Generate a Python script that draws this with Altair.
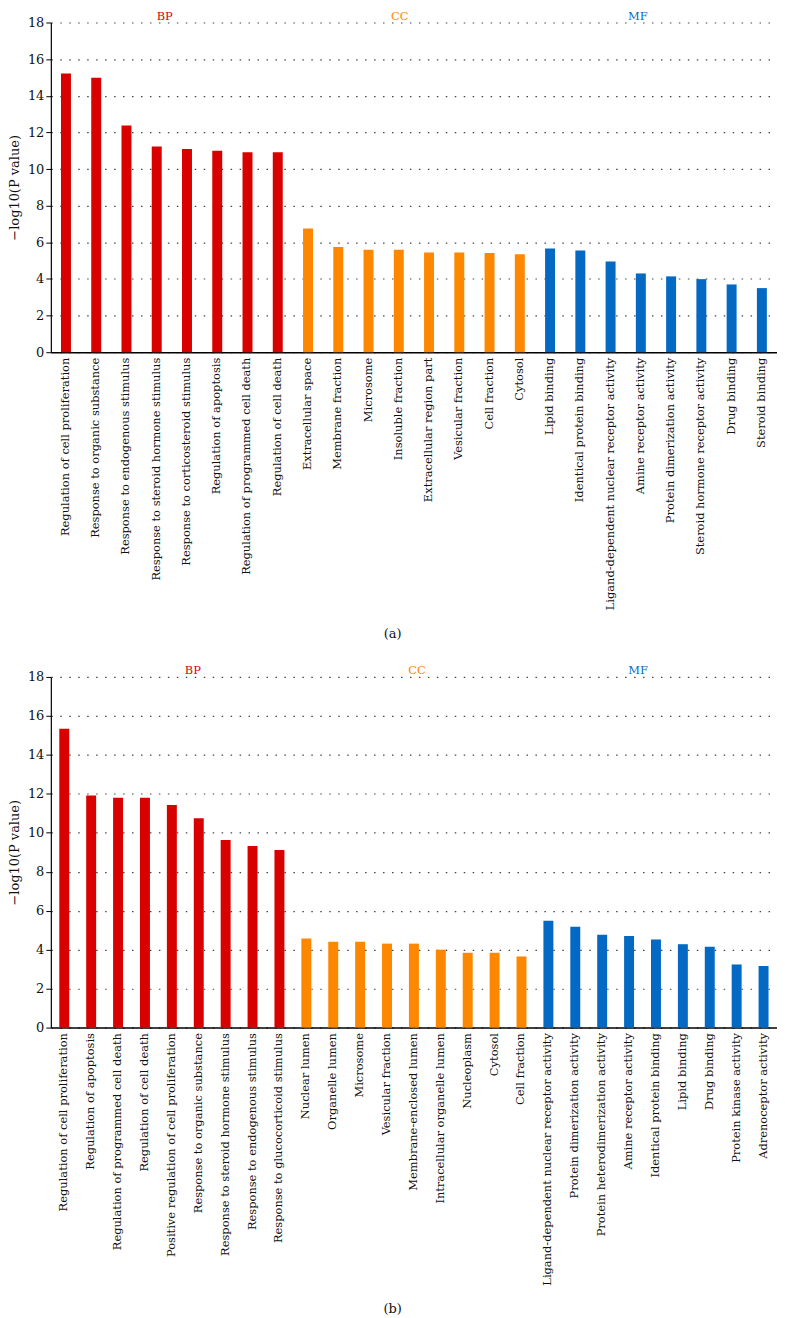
import altair as alt
import pandas as pd

# ---------------- data ----------------
a_bp_terms = ["Regulation of cell proliferation", "Response to organic substance",
              "Response to endogenous stimulus", "Response to steroid hormone stimulus",
              "Response to corticosteroid stimulus", "Regulation of apoptosis",
              "Regulation of programmed cell death", "Regulation of cell death"]
a_bp_vals = [15.21, 14.99, 12.38, 11.23, 11.09, 11.0, 10.91, 10.91]
a_cc_terms = ["Extracellular space", "Membrane fraction", "Microsome", "Insoluble fraction",
              "Extracellular region part", "Vesicular fraction", "Cell fraction", "Cytosol"]
a_cc_vals = [6.75, 5.75, 5.59, 5.59, 5.44, 5.44, 5.41, 5.35]
a_mf_terms = ["Lipid binding", "Identical protein binding",
              "Ligand-dependent nuclear receptor activity", "Amine receptor activity",
              "Protein dimerization activity", "Steroid hormone receptor activity",
              "Drug binding", "Steroid binding"]
a_mf_vals = [5.66, 5.55, 4.95, 4.30, 4.14, 3.99, 3.70, 3.50]

b_bp_terms = ["Regulation of cell proliferation", "Regulation of apoptosis",
              "Regulation of programmed cell death", "Regulation of cell death",
              "Positive regulation of cell proliferation", "Response to organic substance",
              "Response to steroid hormone stimulus", "Response to endogenous stimulus",
              "Response to glucocorticoid stimulus"]
b_bp_vals = [15.34, 11.92, 11.8, 11.8, 11.43, 10.75, 9.63, 9.32, 9.12]
b_cc_terms = ["Nuclear lumen", "Organelle lumen", "Microsome", "Vesicular fraction",
              "Membrane-enclosed lumen", "Intracellular organelle lumen", "Nucleoplasm",
              "Cytosol", "Cell fraction"]
b_cc_vals = [4.57, 4.41, 4.41, 4.31, 4.31, 4.0, 3.84, 3.84, 3.65]
b_mf_terms = ["Ligand-dependent nuclear receptor activity", "Protein dimerization activity",
              "Protein heterodimerization activity", "Amine receptor activity",
              "Identical protein binding", "Lipid binding", "Drug binding",
              "Protein kinase activity", "Adrenoceptor activity"]
b_mf_vals = [5.49, 5.18, 4.77, 4.70, 4.52, 4.28, 4.15, 3.24, 3.16]

groups = ["BP", "CC", "MF"]
group_colors = ["#d90000", "#fe8700", "#0369c3"]
y_ticks = list(range(0, 19, 2))

# label anchors (index of category over which each group name sits) and nudges
a_anchor_idx = [3, 11, 19]
a_anchor_dx = [8, 1, -3]
b_anchor_idx = [5, 13, 21]
b_anchor_dx = [-6, 3, 9]

FONT = "DejaVu Serif"


def make_panel(bp_t, bp_v, cc_t, cc_v, mf_t, mf_v, anchor_idx, anchor_dx, h, caption,
               cap_offset):
    terms = bp_t + cc_t + mf_t
    vals = bp_v + cc_v + mf_v
    grp = ["BP"] * len(bp_t) + ["CC"] * len(cc_t) + ["MF"] * len(mf_t)
    df = pd.DataFrame({"term": terms, "value": vals, "group": grp})

    color = alt.Color("group:N", scale=alt.Scale(domain=groups, range=group_colors),
                      legend=None)
    x = alt.X("term:N", sort=terms, title=None,
              scale=alt.Scale(paddingInner=0, paddingOuter=0),
              axis=alt.Axis(labelAngle=-90, labelFont=FONT, labelFontSize=11.5,
                            labelColor="#111", labelLimit=400, labelPadding=5,
                            ticks=False, domainColor="#000", domainWidth=1.5))
    y = alt.Y("value:Q", title="\u2212log10(P value)",
              scale=alt.Scale(domain=[0, 18], nice=False),
              axis=alt.Axis(values=y_ticks, labelFont=FONT, labelFontSize=13,
                            labelColor="#111", titleFont=FONT, titleFontSize=13,
                            titleFontWeight="normal", titleColor="#111",
                            titlePadding=6, tickColor="#000", tickSize=5,
                            domainColor="#000", domainWidth=1.2,
                            grid=True, gridColor="#444", gridDash=[1.5, 7.5],
                            gridWidth=1.2))
    bars = alt.Chart(df).mark_bar(size=10).encode(x=x, y=y, color=color)
    layers = [bars]
    for g, i, d in zip(groups, anchor_idx, anchor_dx):
        lab = pd.DataFrame({"term": [terms[i]], "group": [g]})
        layers.append(
            alt.Chart(lab).mark_text(font=FONT, fontSize=11.5, baseline="bottom",
                                     align="center", dx=d).encode(
                x=alt.X("term:N", sort=terms),
                y=alt.value(-1),
                text="group:N",
                color=color,
            )
        )
    return alt.layer(*layers).properties(
        width=729, height=h,
        title=alt.TitleParams(caption, orient="bottom", anchor="middle", frame="bounds",
                              font=FONT, fontSize=13, fontWeight="normal",
                              color="#111", offset=cap_offset),
    )


pa = make_panel(a_bp_terms, a_bp_vals, a_cc_terms, a_cc_vals, a_mf_terms, a_mf_vals,
                a_anchor_idx, a_anchor_dx, 331, "(a)", 18)
pb = make_panel(b_bp_terms, b_bp_vals, b_cc_terms, b_cc_vals, b_mf_terms, b_mf_vals,
                b_anchor_idx, b_anchor_dx, 352, "(b)", 18)

chart = alt.vconcat(pa, pb, spacing=23).resolve_scale(x="independent", y="independent") \
    .properties(padding=0).configure_view(stroke=None)

chart.save("out.html", embed_options={"renderer": "svg", "actions": False})
